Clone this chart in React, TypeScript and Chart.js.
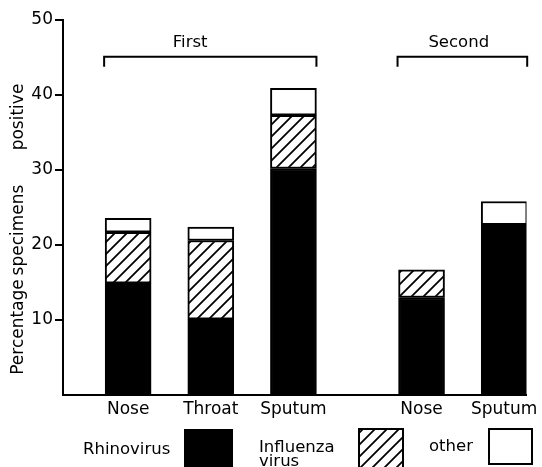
import React, { useEffect, useRef } from 'react';
import { Chart, registerables } from 'chart.js';

Chart.register(...registerables);

const categories = ['Nose', 'Throat', 'Sputum', 'Nose', 'Sputum'];
const positions = [1, 2, 3, 4.55, 5.55];
const rhinovirus = [14.9, 10.1, 30.2, 13.0, 22.7];
const influenza: (number | null)[] = [6.8, 10.5, 7.1, 3.7, null];
const other: (number | null)[] = [1.85, 1.8, 3.6, null, 3.1];
const yTicks = [10, 20, 30, 40, 50];
const groupLabels = ['First', 'Second'];
const groupFrom = [0, 3];
const groupTo = [2, 4];
const groupLabelPos = [1.75, 5.0];
const yTitleWords = ['Percentage', 'specimens', 'positive'];
const legendLabels = ['Rhinovirus', 'Influenza', 'virus', 'other'];

const FONT = '"DejaVu Sans", sans-serif';
const BAR = 46;

function makeHatch(): CanvasPattern | string {
  const s = 12;
  const c = document.createElement('canvas');
  c.width = s;
  c.height = s;
  const g = c.getContext('2d');
  if (!g) return 'white';
  g.fillStyle = 'white';
  g.fillRect(0, 0, s, s);
  g.strokeStyle = 'black';
  g.lineWidth = 1.8;
  g.beginPath();
  g.moveTo(0, s);
  g.lineTo(s, 0);
  g.moveTo(-s / 2, s / 2);
  g.lineTo(s / 2, -s / 2);
  g.moveTo(s / 2, s * 1.5);
  g.lineTo(s * 1.5, s / 2);
  g.stroke();
  const p = g.createPattern(c, 'repeat');
  return p || 'white';
}

export default function App() {
  const ref = useRef<HTMLCanvasElement | null>(null);

  useEffect(() => {
    const canvas = ref.current;
    if (!canvas) return;
    const hatch = makeHatch();

    const decor = {
      id: 'decor',
      afterDraw(chart: any) {
        const ctx = chart.ctx as CanvasRenderingContext2D;
        const xs = chart.scales.x;
        const ys = chart.scales.y;
        ctx.save();
        ctx.fillStyle = 'black';
        ctx.strokeStyle = 'black';
        ctx.lineWidth = 2;

        // y-axis title words
        ctx.font = `17px ${FONT}`;
        ctx.textAlign = 'center';
        ctx.textBaseline = 'middle';
        const wordY = [327, 230, 117];
        yTitleWords.forEach((w, i) => {
          ctx.save();
          ctx.translate(19, wordY[i]);
          ctx.rotate(-Math.PI / 2);
          ctx.fillText(w, 0, 0);
          ctx.restore();
        });

        // group brackets
        const by = ys.getPixelForValue(45.1);
        groupLabels.forEach((lab, i) => {
          const xl = xs.getPixelForValue(positions[groupFrom[i]]) - BAR / 2 - 1;
          const xr = xs.getPixelForValue(positions[groupTo[i]]) + BAR / 2;
          ctx.beginPath();
          ctx.moveTo(xl, by + 10);
          ctx.lineTo(xl, by);
          ctx.lineTo(xr, by);
          ctx.lineTo(xr, by + 10);
          ctx.stroke();
          ctx.font = `16.5px ${FONT}`;
          ctx.textAlign = 'center';
          ctx.textBaseline = 'middle';
          ctx.fillText(lab, xs.getPixelForValue(groupLabelPos[i]), by - 14);
        });

        // legend
        ctx.font = `16.5px ${FONT}`;
        ctx.textAlign = 'left';
        ctx.textBaseline = 'middle';
        ctx.fillText(legendLabels[0], 83, 450);
        ctx.fillText(legendLabels[1], 259, 448);
        ctx.fillText(legendLabels[2], 259, 462);
        ctx.fillText(legendLabels[3], 429, 447);

        ctx.fillStyle = 'black';
        ctx.fillRect(184, 429, 49, 45);

        ctx.fillStyle = hatch as any;
        ctx.fillRect(358, 428, 46, 45);
        ctx.strokeRect(359, 429, 44, 45);

        ctx.fillStyle = 'white';
        ctx.fillRect(488, 428, 45, 37);
        ctx.strokeRect(489, 429, 43, 35);
        ctx.restore();
      },
    };

    const chart = new Chart(canvas, {
      type: 'bar',
      data: {
        datasets: [
          {
            label: 'Rhinovirus',
            data: positions.map((x, i) => ({ x, y: rhinovirus[i] })),
            backgroundColor: 'black',
            borderColor: 'black',
            borderWidth: 2,
            borderSkipped: false,
            barThickness: BAR,
          },
          {
            label: 'Influenza virus',
            data: positions.map((x, i) => ({ x, y: influenza[i] })),
            backgroundColor: hatch as any,
            borderColor: 'black',
            borderWidth: 2,
            borderSkipped: false,
            barThickness: BAR,
          },
          {
            label: 'other',
            data: positions.map((x, i) => ({ x, y: other[i] })),
            backgroundColor: 'white',
            borderColor: 'black',
            borderWidth: 2,
            borderSkipped: false,
            barThickness: BAR,
          },
        ] as any,
      },
      options: {
        animation: false,
        responsive: false,
        layout: { padding: { top: 20, right: 13, left: 0, bottom: 0 } },
        plugins: { legend: { display: false }, tooltip: { enabled: false } },
        scales: {
          x: {
            type: 'linear',
            min: 0.212,
            max: 5.82,
            offset: false,
            stacked: true,
            afterBuildTicks: (s: any) => {
              s.ticks = positions.map((v) => ({ value: v }));
            },
            afterFit: (s: any) => {
              s.height = 72;
            },
            ticks: {
              callback: (_v: any, i: number) => categories[i],
              font: { family: FONT, size: 17 },
              color: 'black',
              padding: 4,
              maxRotation: 0,
              autoSkip: false,
            },
            grid: { display: false, drawTicks: false, offset: false },
            border: { display: true, color: 'black', width: 2 },
          },
          y: {
            min: 0,
            max: 50,
            stacked: true,
            afterBuildTicks: (s: any) => {
              s.ticks = yTicks.map((v) => ({ value: v }));
            },
            afterFit: (s: any) => {
              s.width = 63;
            },
            ticks: {
              font: { family: FONT, size: 17 },
              color: 'black',
              padding: 2,
            },
            grid: {
              display: true,
              drawOnChartArea: false,
              drawTicks: true,
              tickLength: 8,
              color: 'black',
              lineWidth: 2,
            },
            border: { display: true, color: 'black', width: 2 },
          },
        },
      } as any,
      plugins: [decor],
    });
    return () => chart.destroy();
  }, []);

  return (
    <div style={{ position: 'fixed', left: 0, top: 0, width: 542, height: 467, background: 'white' }}>
      <canvas ref={ref} width={542} height={467} />
    </div>
  );
}
